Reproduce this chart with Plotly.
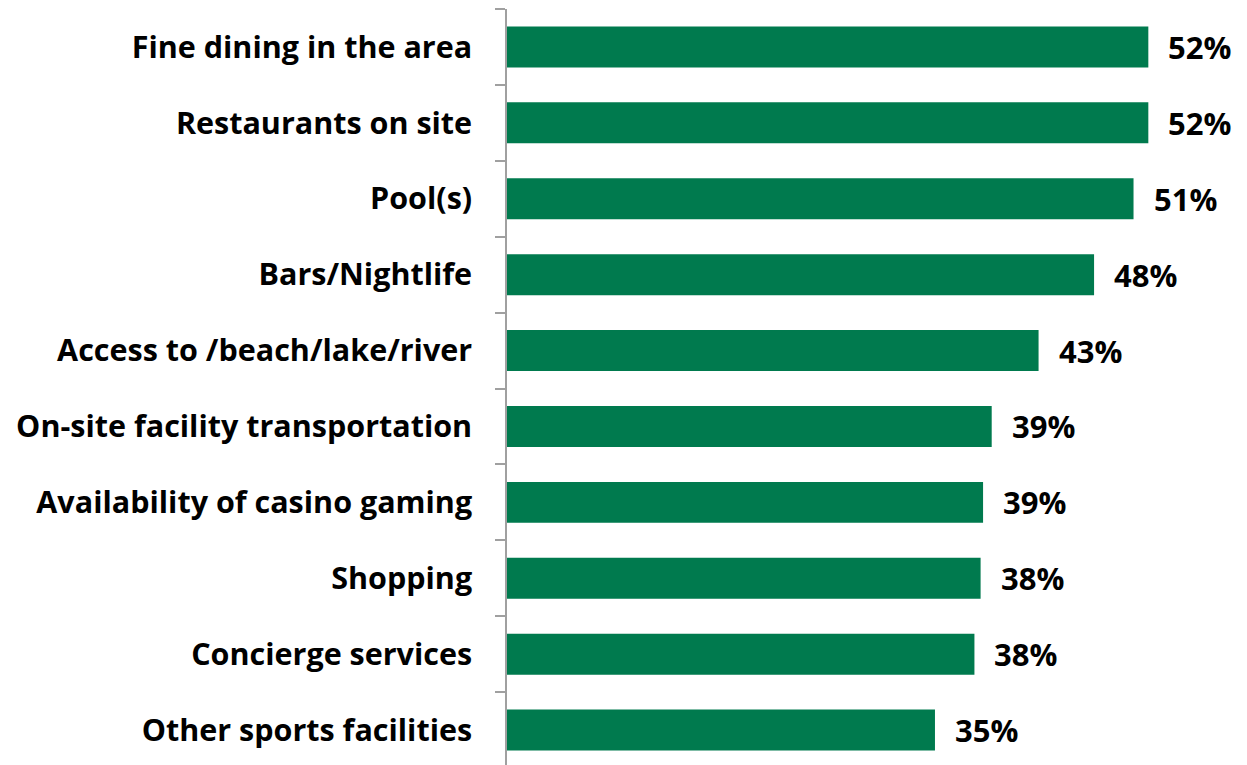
import plotly.graph_objects as go

# Amenity categories, top to bottom as listed
categories = [
    "Fine dining in the area",
    "Restaurants on site",
    "Pool(s)",
    "Bars/Nightlife",
    "Access to /beach/lake/river",
    "On-site facility transportation",
    "Availability of casino gaming",
    "Shopping",
    "Concierge services",
    "Other sports facilities",
]
# Share of respondents (%)
values = [52.0, 52.0, 50.8, 47.6, 43.1, 39.3, 38.6, 38.4, 37.9, 34.7]

FONT = "Open Sans"
GREEN = "#007A4E"
AXIS_GREY = "#A0A0A0"

fig = go.Figure(
    go.Bar(
        x=values,
        y=categories,
        orientation="h",
        width=0.54,
        marker=dict(color=GREEN, line=dict(width=0)),
        hoverinfo="skip",
    )
)

# Value labels to the right of each bar
for cat, val in zip(categories, values):
    fig.add_annotation(
        x=val, y=cat, xref="x", yref="y",
        text=f"<b>{val:.0f}%</b>",
        showarrow=False, xanchor="left", yanchor="middle",
        xshift=18,
        font=dict(family=FONT, size=31, color="black"),
    )

fig.update_layout(
    width=1247,
    height=765,
    margin=dict(l=507, r=0, t=9, b=0),
    paper_bgcolor="white",
    plot_bgcolor="white",
    showlegend=False,
    xaxis=dict(
        range=[0, 60],
        visible=False,
        fixedrange=True,
    ),
    yaxis=dict(
        type="category",
        categoryorder="array",
        categoryarray=categories[::-1],
        range=[-0.46, 9.5],
        showline=True,
        linecolor=AXIS_GREY,
        linewidth=1.5,
        ticks="outside",
        tickson="boundaries",
        ticklen=10,
        tickcolor=AXIS_GREY,
        tickwidth=1.5,
        ticklabelstandoff=27,
        showgrid=False,
        tickfont=dict(family=FONT, size=30.5, color="black", weight="bold"),
        fixedrange=True,
    ),
)

fig.write_html("out.html")
